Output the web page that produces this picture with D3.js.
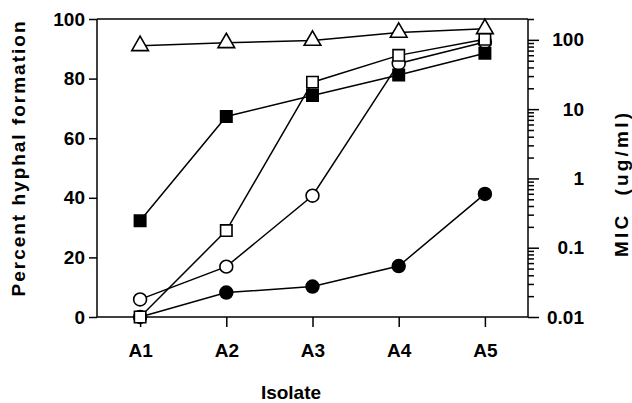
<!DOCTYPE html>
<html>
<head>
<meta charset="utf-8">
<script src="https://d3js.org/d3.v7.min.js"></script>
<style>
  body { margin: 0; background: #fff; }
  text { font-family: "Liberation Sans", Arial, Helvetica, sans-serif; font-weight: bold; fill: #000; }
</style>
</head>
<body>
<div id="visu"></div>
<script>

// Données
var isolats = ["A1", "A2", "A3", "A4", "A5"];
var triangles_ouverts = [91, 92, 92.8, 95.5, 96.7];
var carres_pleins = [32.3, 67.3, 74.3, 81.2, 88.5];
var carres_ouverts = [0, 29, 78.8, 87.8, 93.2];
var cercles_ouverts = [5.9, 16.9, 40.7, 85.1, 92.3];
var cercles_pleins = [0, 8.2, 10.2, 17.1, 41.3];
var ticks_gauche = [0, 20, 40, 60, 80, 100];
var ticks_droite = [0.01, 0.1, 1, 10, 100];

var largeur = 632, hauteur = 403;
var gauche = 97, droite = 528, haut = 19, bas = 317;

var svg = d3.select("#visu").append("svg")
    .attr("width", largeur)
    .attr("height", hauteur);

var x = d3.scalePoint().domain(isolats).range([gauche, droite]).padding(0.5);
var y = d3.scaleLinear().domain([0, 100]).range([bas, haut]);
var yLog = d3.scaleLog().domain([0.01, 200]).range([bas, haut]);

// cadre
svg.append("line").attr("x1", gauche).attr("x2", droite).attr("y1", haut).attr("y2", haut)
   .attr("stroke", "#000").attr("stroke-width", 1.5);

// axe gauche
var axeG = svg.append("g").attr("transform", "translate(" + gauche + ",0)")
   .call(d3.axisLeft(y).tickValues(ticks_gauche).tickSize(8).tickPadding(4));
// axe bas
var axeB = svg.append("g").attr("transform", "translate(0," + bas + ")")
   .call(d3.axisBottom(x).tickSize(10).tickPadding(17));
// axe droit (log)
var mineurs = [];
[0.01, 0.1, 1, 10, 100].forEach(function(d) {
  for (var k = 2; k <= 9; k++) { if (d * k <= 200) mineurs.push(d * k); }
});
svg.append("g").attr("transform", "translate(" + droite + ",0)")
   .call(d3.axisRight(yLog).tickValues(mineurs).tickSize(6).tickFormat(""));
var axeD = svg.append("g").attr("transform", "translate(" + droite + ",0)")
   .call(d3.axisRight(yLog).tickValues(ticks_droite).tickSize(11).tickPadding(0)
         .tickFormat(function(d) { return d >= 1 ? d3.format("d")(d) : String(d); }));

svg.selectAll(".domain").attr("stroke-width", 1.5).attr("d", null);
[axeG, axeB, axeD].forEach(function(a) {
  a.selectAll("text").style("font-size", "19px").style("font-family", null);
});
axeG.select(".domain").attr("d", "M0," + haut + "V" + bas);
axeB.select(".domain").attr("d", "M" + gauche + ",0H" + droite);
axeD.select(".domain").attr("d", "M0," + haut + "V" + bas);
svg.selectAll(".tick line").attr("stroke-width", 1.5);
axeD.selectAll("text").attr("text-anchor", "end").attr("x", 56);

// titres
svg.append("text").attr("x", 291).attr("y", 399).attr("text-anchor", "middle")
   .style("font-size", "19px").text("Isolate");
svg.append("text").attr("transform", "translate(25,159) rotate(-90)").attr("text-anchor", "middle")
   .style("font-size", "19px").attr("textLength", 275).attr("lengthAdjust", "spacing")
   .text("Percent hyphal formation");
svg.append("text").attr("transform", "translate(628,185) rotate(-90)").attr("text-anchor", "middle")
   .style("font-size", "19px").attr("textLength", 144).attr("lengthAdjust", "spacing")
   .style("white-space", "pre")
   .text("MIC  (ug/ml)");

var ligne = d3.line().x(function(d, i) { return x(isolats[i]); }).y(function(d) { return y(d); });

function serie(valeurs, forme, plein) {
  svg.append("path").datum(valeurs).attr("d", ligne)
     .attr("fill", "none").attr("stroke", "#000").attr("stroke-width", 1.5);
  svg.append("g").selectAll("path").data(valeurs).enter().append("path")
     .attr("transform", function(d, i) { return "translate(" + x(isolats[i]) + "," + y(d) + ")"; })
     .attr("d", d3.symbol().type(forme).size(forme === d3.symbolTriangle ? 120 : 130))
     .attr("fill", plein ? "#000" : "#fff")
     .attr("stroke", "#000").attr("stroke-width", 1.6);
}

serie(cercles_pleins, d3.symbolCircle, true);
serie(cercles_ouverts, d3.symbolCircle, false);
serie(carres_ouverts, d3.symbolSquare, false);
serie(carres_pleins, d3.symbolSquare, true);
serie(triangles_ouverts, d3.symbolTriangle, false);

</script>
</body>
</html>
